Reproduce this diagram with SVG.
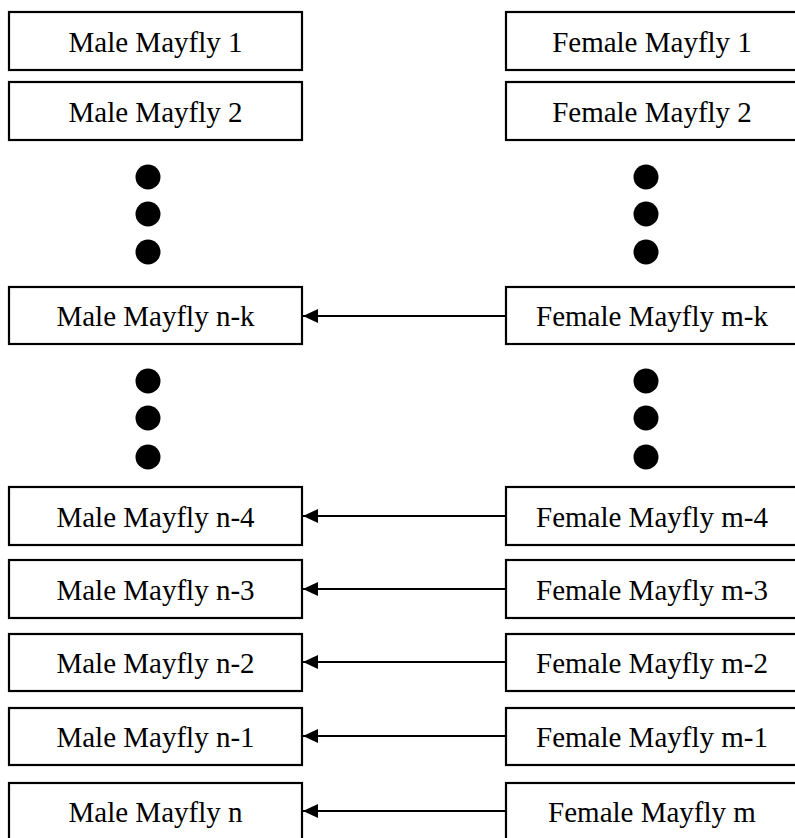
<svg xmlns="http://www.w3.org/2000/svg" width="795" height="838" viewBox="0 0 795 838">
<defs>
<style>
.box{fill:#fff;stroke:#000;stroke-width:2.2}
.t{font-family:"Liberation Serif","Times New Roman",serif;font-size:29px;fill:#000;text-anchor:middle}
.c{stroke:#000;stroke-width:2;fill:none}
.dot{fill:#000}
</style>
<marker id="ah" markerWidth="16" markerHeight="14" refX="15" refY="7" orient="auto" markerUnits="userSpaceOnUse">
<path d="M0,0 L15,7 L0,14 Z" fill="#000"/>
</marker>
</defs>
<rect width="795" height="838" fill="#fff"/>
<g id="m1"><rect class="box" x="9" y="12" width="293" height="58"/><text class="t" x="155.5" y="52">Male Mayfly 1</text></g>
<g id="m2"><rect class="box" x="9" y="82" width="293" height="58"/><text class="t" x="155.5" y="122">Male Mayfly 2</text></g>
<g id="mnk"><rect class="box" x="9" y="287" width="293" height="57"/><text class="t" x="155.5" y="326">Male Mayfly n-k</text></g>
<g id="mn4"><rect class="box" x="9" y="487" width="293" height="58"/><text class="t" x="155.5" y="527">Male Mayfly n-4</text></g>
<g id="mn3"><rect class="box" x="9" y="560" width="293" height="58"/><text class="t" x="155.5" y="600">Male Mayfly n-3</text></g>
<g id="mn2"><rect class="box" x="9" y="634" width="293" height="57"/><text class="t" x="155.5" y="673">Male Mayfly n-2</text></g>
<g id="mn1"><rect class="box" x="9" y="708" width="293" height="57"/><text class="t" x="155.5" y="747">Male Mayfly n-1</text></g>
<g id="mn"><rect class="box" x="9" y="783" width="293" height="60"/><text class="t" x="155.5" y="822">Male Mayfly n</text></g>
<g id="f1"><rect class="box" x="506" y="12" width="293" height="58"/><text class="t" x="652" y="52">Female Mayfly 1</text></g>
<g id="f2"><rect class="box" x="506" y="82" width="293" height="58"/><text class="t" x="652" y="122">Female Mayfly 2</text></g>
<g id="fmk"><rect class="box" x="506" y="287" width="293" height="57"/><text class="t" x="652" y="326">Female Mayfly m-k</text></g>
<g id="fm4"><rect class="box" x="506" y="487" width="293" height="58"/><text class="t" x="652" y="527">Female Mayfly m-4</text></g>
<g id="fm3"><rect class="box" x="506" y="560" width="293" height="58"/><text class="t" x="652" y="600">Female Mayfly m-3</text></g>
<g id="fm2"><rect class="box" x="506" y="634" width="293" height="57"/><text class="t" x="652" y="673">Female Mayfly m-2</text></g>
<g id="fm1"><rect class="box" x="506" y="708" width="293" height="57"/><text class="t" x="652" y="747">Female Mayfly m-1</text></g>
<g id="fm"><rect class="box" x="506" y="783" width="293" height="60"/><text class="t" x="652" y="822">Female Mayfly m</text></g>
<g id="dots">
<circle class="dot" cx="148" cy="177" r="12.5"/><circle class="dot" cx="148" cy="214" r="12.5"/><circle class="dot" cx="148" cy="252" r="12.5"/>
<circle class="dot" cx="148" cy="381" r="12.5"/><circle class="dot" cx="148" cy="418" r="12.5"/><circle class="dot" cx="148" cy="457" r="12.5"/>
<circle class="dot" cx="646" cy="177" r="12.5"/><circle class="dot" cx="646" cy="214" r="12.5"/><circle class="dot" cx="646" cy="252" r="12.5"/>
<circle class="dot" cx="646" cy="381" r="12.5"/><circle class="dot" cx="646" cy="418" r="12.5"/><circle class="dot" cx="646" cy="457" r="12.5"/>
</g>
<g id="connectors">
<line class="c" x1="506" y1="316" x2="303" y2="316" marker-end="url(#ah)"/>
<line class="c" x1="506" y1="516" x2="303" y2="516" marker-end="url(#ah)"/>
<line class="c" x1="506" y1="589" x2="303" y2="589" marker-end="url(#ah)"/>
<line class="c" x1="506" y1="662" x2="303" y2="662" marker-end="url(#ah)"/>
<line class="c" x1="506" y1="736" x2="303" y2="736" marker-end="url(#ah)"/>
<line class="c" x1="506" y1="811" x2="303" y2="811" marker-end="url(#ah)"/>
</g>
</svg>
